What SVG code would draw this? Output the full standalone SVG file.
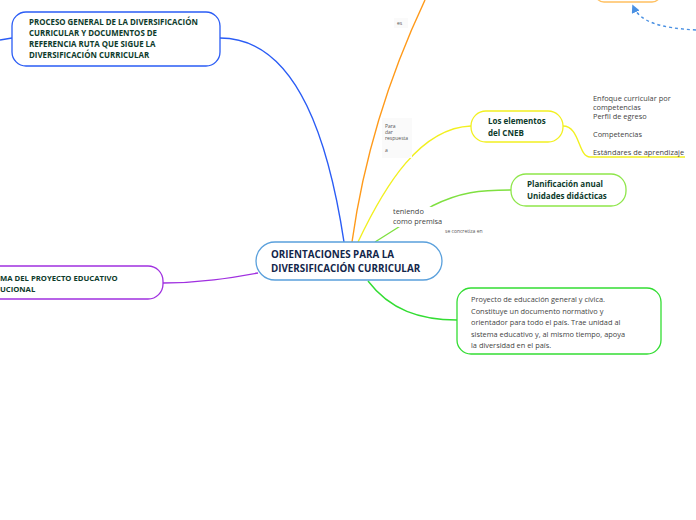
<svg xmlns="http://www.w3.org/2000/svg" width="696" height="520" viewBox="0 0 696 520">
<defs>
<style>
.node{fill:#fff;stroke-width:1.3}
.t{font-family:"Open Sans","Liberation Sans",sans-serif;font-weight:bold;fill:#0d3b2b}
.c{font-family:"Open Sans","Liberation Sans",sans-serif;font-weight:bold;fill:#12264a;font-size:9.8px}
.s{font-family:"Open Sans","Liberation Sans",sans-serif;fill:#444;font-size:7.4px}
.lab{font-family:"Open Sans","Liberation Sans",sans-serif;fill:#555;font-size:5px}
.conn{fill:none;stroke-width:1.4}
</style>
<marker id="ah" viewBox="0 0 10 10" refX="8" refY="5" markerWidth="6" markerHeight="6" orient="auto"><path d="M0,0 L10,5 L0,10 z" fill="#4a90e2"/></marker>
</defs>
<rect width="696" height="520" fill="#fff"/>
<g id="connectors">
<path class="conn" stroke="#2a5cf5" d="M0,40 L12,38"/>
<path class="conn" stroke="#2a5cf5" d="M220,38 C300,38 330,150 344,242"/>
<path class="conn" stroke="#ff9a1a" d="M352,242 C362,170 385,85 425,0"/>
<path class="conn" stroke="#f2f020" d="M358,242 C385,185 420,128 471,126"/>
<path class="conn" stroke="#f2f020" d="M563,126 C580,126 578,157 590,157 L685,157"/>
<path class="conn" stroke="#7fe040" d="M375,242 L432,206 C460,192 480,190 511,190"/>
<path class="conn" stroke="#33dd33" d="M368,281 C390,310 420,320 457,320"/>
<path class="conn" stroke="#a030e0" d="M163,283 C200,283 230,278 258,273"/>
<path class="conn" stroke="#4a90e2" stroke-dasharray="3,3" d="M696,30 C660,28 640,22 633,6" marker-end="url(#ah)"/>
</g>
<g id="lbl-es"><rect x="394" y="18" width="14" height="10" fill="#fafafa"/><text class="lab" x="397" y="25">es</text></g>
<g id="lbl-para"><rect x="382" y="118" width="30" height="40" fill="#fafafa"/><text class="lab" x="385" y="128">Para</text><text class="lab" x="385" y="134">dar</text><text class="lab" x="385" y="140">respuesta</text><text class="lab" x="385" y="152">a</text></g>
<g id="lbl-teniendo"><rect x="390" y="207" width="50" height="20" fill="#fff"/><text class="s" x="393" y="214" font-size="7">teniendo</text><text class="s" x="393" y="224" font-size="7">como premisa</text></g>
<g id="lbl-concretiza"><text class="lab" x="445" y="233">se concretiza en</text></g>
<g id="n-top-orange"><rect class="node" x="595" y="-30" width="66" height="32" rx="9" stroke="#ffc060"/></g>
<g id="n-central"><rect class="node" x="256" y="242" width="186" height="38" rx="19" stroke="#5aa0dc"/><text class="c" x="271" y="258">ORIENTACIONES PARA LA</text><text class="c" x="271" y="272">DIVERSIFICACIÓN CURRICULAR</text></g>
<g id="n-proceso"><rect class="node" x="12" y="12" width="208" height="54" rx="14" stroke="#2a5cf5"/><g class="t" font-size="7.9"><text x="29" y="25">PROCESO GENERAL DE LA DIVERSIFICACIÓN</text><text x="29" y="36">CURRICULAR Y DOCUMENTOS DE</text><text x="29" y="47">REFERENCIA RUTA QUE SIGUE LA</text><text x="29" y="58">DIVERSIFICACIÓN CURRICULAR</text></g></g>
<g id="n-cneb"><rect class="node" x="471" y="111" width="92" height="31" rx="15" stroke="#f2f020"/><g class="t" font-size="8"><text x="488" y="124">Los elementos</text><text x="488" y="136">del CNEB</text></g></g>
<g id="n-cneb-items"><text class="s" x="593" y="101">Enfoque curricular por</text><text class="s" x="593" y="110">competencias</text><text class="s" x="593" y="119">Perfil de egreso</text><text class="s" x="593" y="137">Competencias</text><text class="s" x="593" y="155">Estándares de aprendizaje</text></g>
<g id="n-plan"><rect class="node" x="511" y="174" width="115" height="32" rx="15" stroke="#8ee64a"/><g class="t" font-size="8"><text x="527" y="187">Planificación anual</text><text x="527" y="199">Unidades didácticas</text></g></g>
<g id="n-proyecto"><rect class="node" x="457" y="288" width="204" height="66" rx="14" stroke="#33dd33"/><g class="s" font-size="8.1" fill="#1e3a2e"><text x="471" y="302">Proyecto de educación general y cívica.</text><text x="471" y="314">Constituye un documento normativo y</text><text x="471" y="325">orientador para todo el país. Trae unidad al</text><text x="471" y="337">sistema educativo y, al mismo tiempo, apoya</text><text x="471" y="348">la diversidad en el país.</text></g></g>
<g id="n-pei"><rect class="node" x="-30" y="266" width="193" height="33" rx="15" stroke="#a030e0"/><g class="t" font-size="7.7"><text x="0" y="281">MA DEL PROYECTO EDUCATIVO</text><text x="0" y="292">UCIONAL</text></g></g>
</svg>
